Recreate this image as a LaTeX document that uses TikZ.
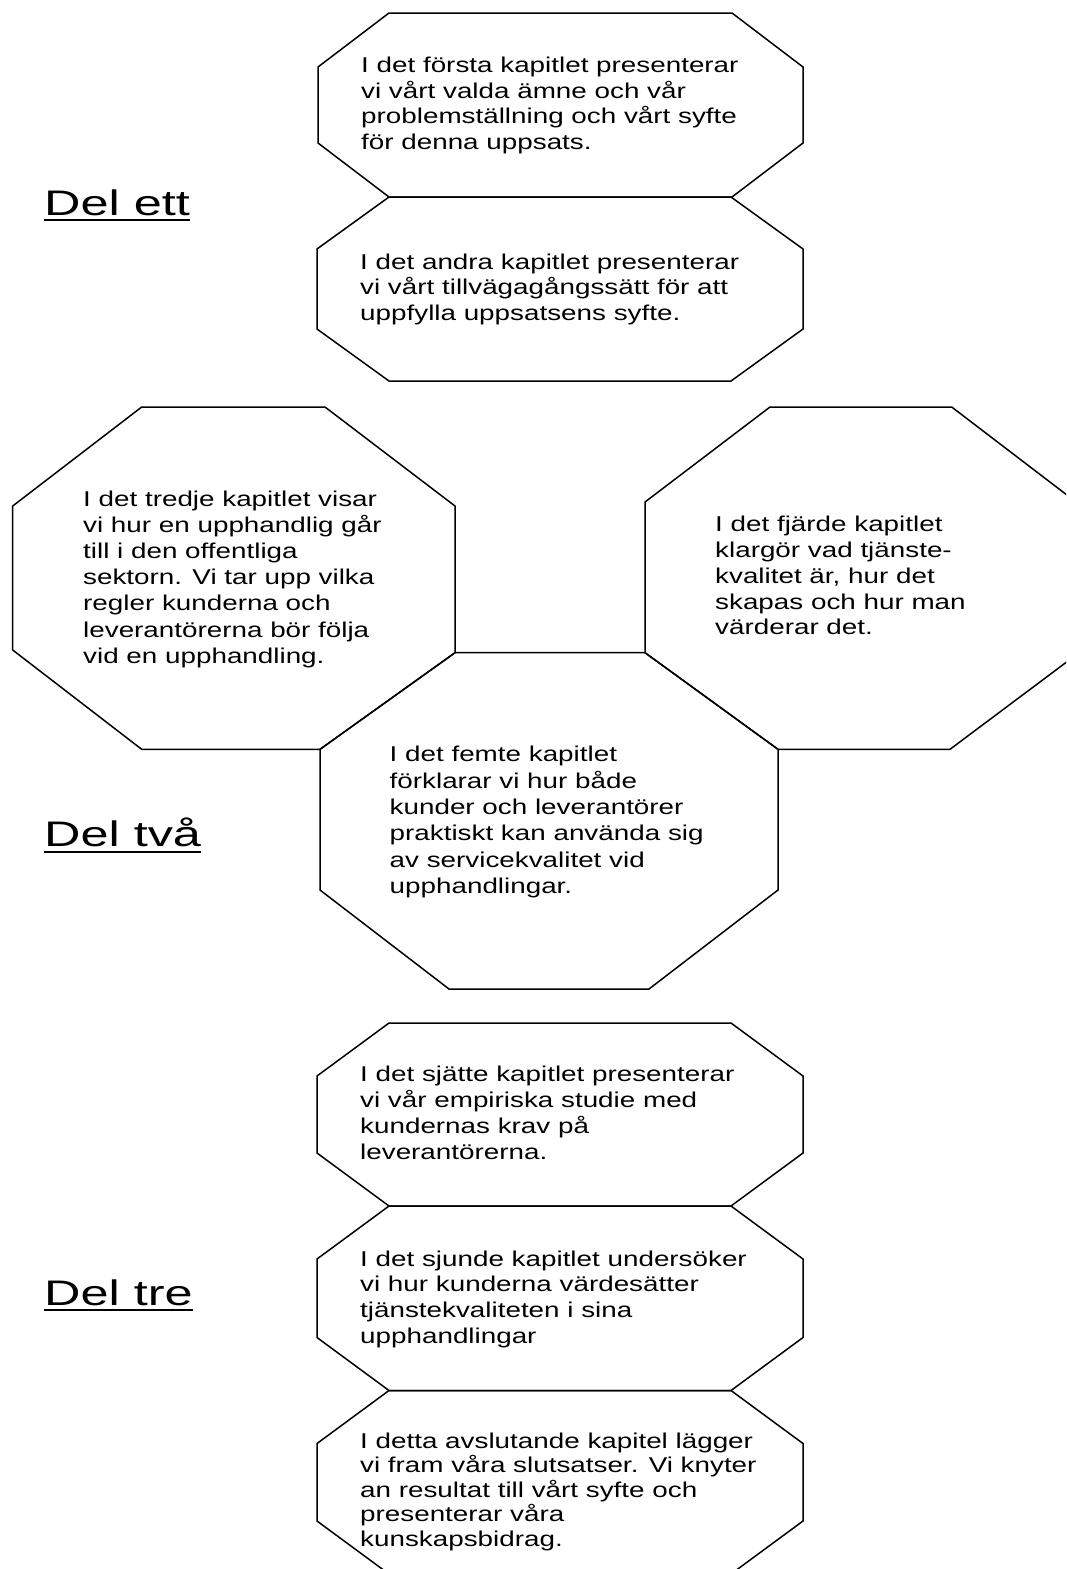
\documentclass[tikz,border=0pt]{standalone}
\usepackage{fontspec}
\newfontfamily\bodyfont[FakeStretch=1.30]{Liberation Sans}
\newfontfamily\labfont[FakeStretch=1.42]{Liberation Sans}
\newcommand\octlines[1]{\begin{tabular}[t]{@{}l@{}}#1\end{tabular}}
\newcommand\octagonpath[6]{% xl xr yt yb cx cy
  \draw[octline] (#1+#5,#3) -- (#2-#5,#3) -- (#2,#3+#6) -- (#2,#4-#6) -- (#2-#5,#4) -- (#1+#5,#4) -- (#1,#4-#6) -- (#1,#3+#6) -- cycle;}
\tikzset{
  octline/.style={draw=black, line width=1.5pt, line join=miter},
  octtext/.style={anchor=base west, inner sep=0pt, font={\bodyfont\fontsize{21.4}{#1}\selectfont}},
  octtext/.default=25.5,
  parttitle/.style={anchor=base west, inner sep=0pt, font={\labfont\fontsize{35.5}{40}\selectfont}},
  uline/.style={line width=2pt}
}
\begin{document}
\begin{tikzpicture}[x=1pt,y=-1pt]
\useasboundingbox (0,0) rectangle (1066,1569);
\clip (0,0) rectangle (1066,1569);
% top group
\octagonpath{318}{803}{13}{197}{71}{54}
\octagonpath{317}{803}{197}{381}{72}{52}
% middle group: shared vertices
\coordinate (jl) at (455,652.7);
\coordinate (jr) at (645,652.7);
\coordinate (ml) at (320,749.3);
\coordinate (mr) at (778,749.3);
\draw[octline] (141.7,407) -- (325,407) -- (455,506) -- (jl) -- (ml) -- (141.7,749.3) -- (12.7,650) -- (12.7,506) -- cycle;
\draw[octline] (770,407) -- (951.7,407) -- (1080,505) -- (1080,652) -- (950,749.3) -- (mr) -- (jr) -- (645,502) -- cycle;
\draw[octline] (jl) -- (jr) -- (mr) -- (778,890) -- (649,989) -- (449,989) -- (320,890) -- (ml) -- cycle;
% bottom group
\octagonpath{317}{803}{1023}{1206}{72}{53}
\octagonpath{317}{803}{1206}{1390.5}{72}{53}
\octagonpath{317}{803}{1390.5}{1574}{72}{53}
% texts
\node[octtext=25.6] (t1) at (361,72.7) {\octlines{I det första kapitlet presenterar\\vi vårt valda ämne och vår\\problemställning och vårt syfte\\för denna uppsats.}};
\node[octtext=25.5] (t2) at (360,269) {\octlines{I det andra kapitlet presenterar\\vi vårt tillvägagångssätt för att\\uppfylla uppsatsens syfte.}};
\node[octtext=26.2] (t3) at (83,506) {\octlines{I det tredje kapitlet visar\\vi hur en upphandlig går\\till i den offentliga\\sektorn. Vi tar upp vilka\\regler kunderna och\\leverantörerna bör följa\\vid en upphandling.}};
\node[octtext=25.8] (t4) at (715,531.7) {\octlines{I det fjärde kapitlet\\klargör vad tjänste-\\kvalitet är, hur det\\skapas och hur man\\värderar det.}};
\node[octtext=26.4] (t5) at (389.5,761.6) {\octlines{I det femte kapitlet\\förklarar vi hur både\\kunder och leverantörer\\praktiskt kan använda sig\\av servicekvalitet vid\\upphandlingar.}};
\node[octtext=26.2] (t6) at (360,1081) {\octlines{I det sjätte kapitlet presenterar\\vi vår empiriska studie med\\kundernas krav på\\leverantörerna.}};
\node[octtext=25.7] (t7) at (360,1266) {\octlines{I det sjunde kapitlet undersöker\\vi hur kunderna värdesätter\\tjänstekvaliteten i sina\\upphandlingar}};
\node[octtext=24.4] (t8) at (360,1448) {\octlines{I detta avslutande kapitel lägger\\vi fram våra slutsatser. Vi knyter\\an resultat till vårt syfte och\\presenterar våra\\kunskapsbidrag.}};
% part titles
\node[parttitle] (p1) at (44,215) {Del ett};
\node[parttitle] (p2) at (44,846) {Del två};
\node[parttitle] (p3) at (44,1305) {Del tre};
\draw[uline] ([yshift=-5pt]p1.base west) -- ([yshift=-5pt]p1.base east);
\draw[uline] ([yshift=-6pt]p2.base west) -- ([yshift=-6pt]p2.base east);
\draw[uline] ([yshift=-5pt]p3.base west) -- ([yshift=-5pt]p3.base east);
\end{tikzpicture}
\end{document}
